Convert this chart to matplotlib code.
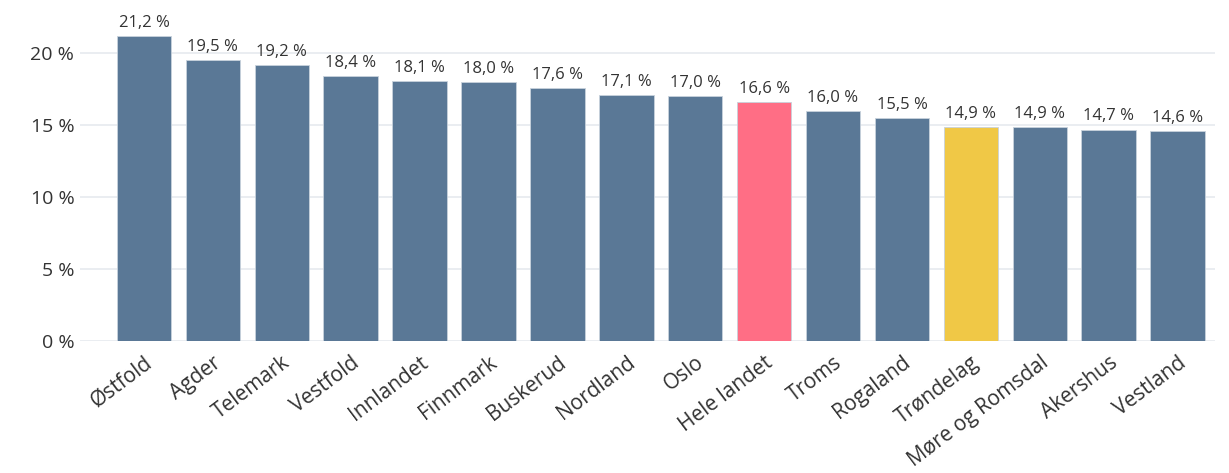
import matplotlib
matplotlib.use('Agg')
import matplotlib.pyplot as plt
import matplotlib.transforms as mtransforms
from matplotlib.ticker import FuncFormatter

regions = ['Østfold', 'Agder', 'Telemark', 'Vestfold', 'Innlandet', 'Finnmark',
           'Buskerud', 'Nordland', 'Oslo', 'Hele landet', 'Troms', 'Rogaland',
           'Trøndelag', 'Møre og Romsdal', 'Akershus', 'Vestland']
values = [21.2, 19.5, 19.2, 18.4, 18.1, 18.0, 17.6, 17.1, 17.0, 16.6, 16.0, 15.5,
          14.9, 14.9, 14.7, 14.6]

base = '#5a7896'
colors = [base] * len(regions)
colors[regions.index('Hele landet')] = '#ff6e85'
colors[regions.index('Trøndelag')] = '#f0c846'

plt.rcParams['font.family'] = ['Open Sans', 'DejaVu Sans']

fig = plt.figure(figsize=(12.29, 4.73), dpi=100)
ax = fig.add_axes([0.065, 0.279, 0.924, 0.721])

x = range(len(regions))
ax.bar(x, values, width=0.79, color=colors, edgecolor='#c8d2dc', linewidth=0.6, zorder=3)
for i, v in enumerate(values):
    ax.text(i, v + 0.35, f'{v:.1f} %'.replace('.', ','), ha='center', va='bottom',
            fontsize=12, color='#333333')

ax.set_xlim(-0.93, 15.55)
ax.set_ylim(0, 23.7)
ax.set_yticks([0, 5, 10, 15, 20])
ax.yaxis.set_major_formatter(FuncFormatter(lambda v, p: f'{v:.0f} %'))
ax.grid(axis='y', color='#e8ecf0', linewidth=1.3, zorder=0)
ax.set_xticks(list(x))
ax.set_xticklabels(regions, rotation=37, ha='right', rotation_mode='anchor',
                   fontsize=15, color='#333333')
# shift the slanted labels a little left, as in the original
offset = mtransforms.ScaledTranslation(-8 / 100, 0, fig.dpi_scale_trans)
for lbl in ax.get_xticklabels():
    lbl.set_transform(lbl.get_transform() + offset)
ax.tick_params(axis='y', labelsize=14, labelcolor='#333333', length=0, pad=4)
ax.tick_params(axis='x', length=0, pad=8)
for s in ax.spines.values():
    s.set_visible(False)

fig.savefig('out.png', dpi=100)
